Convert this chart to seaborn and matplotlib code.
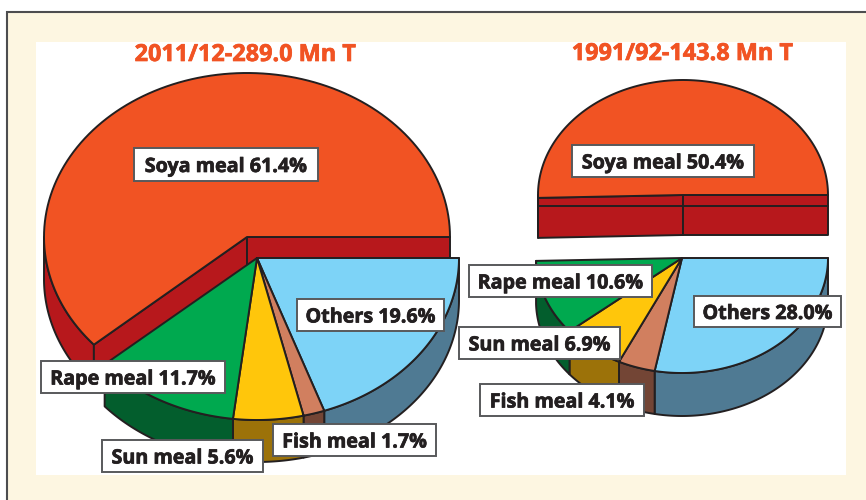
import numpy as np
import matplotlib
matplotlib.use("Agg")
import matplotlib.pyplot as plt
import matplotlib.patheffects as pe
import seaborn as sns
from matplotlib.patches import Rectangle

# shares in percent, clockwise from the right hand edge of the lower part
slices = ["Others", "Fish meal", "Sun meal", "Rape meal"]
shares_2011 = [19.6, 1.7, 5.6, 11.7]
shares_1991 = [28.0, 4.1, 6.9, 10.6]
soya_2011 = 61.4
soya_1991 = 50.4

title_2011 = "2011/12-289.0 Mn T"
title_1991 = "1991/92-143.8 Mn T"

top_colors = sns.color_palette(["#7DD3F7", "#D17F5F", "#FFC60B", "#00A94F"])
wall_colors = sns.color_palette(["#4F7A93", "#734535", "#9C7209", "#035E2D"])
soya_top = "#F15323"
soya_wall = "#B7181C"
edge = "#231F20"
cream = "#FDF6E1"

sns.set_style("white")
plt.rcParams["font.family"] = ["Open Sans", "DejaVu Sans"]


def arc(cx, cy, rx, ry, a, b):
    t = np.radians(np.linspace(a, b, 120))
    return cx + rx * np.cos(t), cy + ry * np.sin(t)


def poly(ax, x, y, color, z):
    ax.fill(x, y, facecolor=color, edgecolor=edge, lw=1.4, joinstyle="round", zorder=z)


def side(ax, cx, cy, rx, ry, a, b, depth, color, z):
    # outer wall of a slice between two angles
    x, y = arc(cx, cy, rx, ry, a, b)
    poly(ax, np.r_[x, x[::-1]], np.r_[y, y[::-1] + depth], color, z)


def lower_part(ax, cx, cy, rx, ry, depth, shares):
    start = 0.0
    for i, share in enumerate(shares):
        end = start + share * 3.6
        side(ax, cx, cy, rx, ry, start, end, depth, wall_colors[i], 4)
        x, y = arc(cx, cy, rx, ry, start, end)
        poly(ax, np.r_[cx, x], np.r_[cy, y], top_colors[i], 5)
        start = end


def soya_part(ax, cx, cy, rx, ry, depth, share):
    # y axis is inverted, so the soya slice runs over the top with a negative radius
    end = share * 3.6
    ex, ey = arc(cx, cy, rx, -ry, end, end)
    if end > 180:
        side(ax, cx, cy, rx, -ry, 180, end, depth, soya_wall, 1)
    # the two cut faces of the slice
    poly(ax, [cx, ex[0], ex[0], cx], [cy, ey[0], ey[0] + depth, cy + depth], soya_wall, 2)
    poly(ax, [cx, cx + rx, cx + rx, cx], [cy, cy, cy + depth, cy + depth], soya_wall, 2)
    x, y = arc(cx, cy, rx, -ry, 0, end)
    poly(ax, np.r_[cx, x], np.r_[cy, y], soya_top, 3)


def heavy(color, width=0.5):
    return [pe.withStroke(linewidth=width, foreground=color)]


def label(ax, text, x0, x1, y0, y1):
    ax.add_patch(Rectangle((x0, y0), x1 - x0, y1 - y0, facecolor="white",
                           edgecolor="#58595B", lw=1.4, zorder=8))
    ax.text((x0 + x1) / 2, (y0 + y1) / 2, text, ha="center", va="center_baseline",
            fontsize=14.2, fontweight="bold", color=edge, zorder=9, path_effects=heavy(edge))


fig = plt.figure(figsize=(8.66, 5), dpi=100)
ax = fig.add_axes([0, 0, 1, 1])
ax.set_xlim(0, 866)
ax.set_ylim(500, 0)
ax.axis("off")

# frame and panel
ax.add_patch(Rectangle((7, 12), 880, 520, facecolor=cream, edgecolor="#4D4D4F", lw=1.5, zorder=0))
ax.add_patch(Rectangle((36, 42), 810, 433, facecolor="white", edgecolor="none", zorder=0))

ax.text(246, 55, title_2011, ha="center", va="center", fontsize=16.9, fontweight="bold",
        color=soya_top, path_effects=heavy(soya_top))
ax.text(683, 54, title_1991, ha="center", va="center", fontsize=16.9, fontweight="bold",
        color=soya_top, path_effects=heavy(soya_top))

# left pie
soya_part(ax, 247, 237, 203, 164, 42, soya_2011)
lower_part(ax, 257, 258, 202, 162, 42, shares_2011)

# right pie
soya_part(ax, 683, 195, 145, 115, 40, soya_1991)
ax.plot([538, 828], [206, 206], color=edge, lw=1.4, zorder=3)
lower_part(ax, 682, 258, 146, 115, 43, shares_1991)

label(ax, f"Soya meal {soya_2011}%", 134, 318, 148, 181)
label(ax, f"{slices[0]} {shares_2011[0]}%", 297, 444, 299, 331)
label(ax, f"{slices[3]} {shares_2011[3]}%", 41, 225, 361, 393)
label(ax, f"{slices[2]} {shares_2011[2]}%", 102, 263, 440, 472)
label(ax, f"{slices[1]} {shares_2011[1]}%", 273, 436, 424, 456)

label(ax, f"Soya meal {soya_1991}%", 572, 754, 145, 177)
label(ax, f"{slices[0]} {shares_1991[0]}%", 694, 841, 296, 327)
label(ax, f"{slices[3]} {shares_1991[3]}%", 469, 652, 265, 297)
label(ax, f"{slices[2]} {shares_1991[2]}%", 459, 620, 327, 359)
label(ax, f"{slices[1]} {shares_1991[1]}%", 480, 644, 384, 416)

fig.savefig("out.png", dpi=100)
